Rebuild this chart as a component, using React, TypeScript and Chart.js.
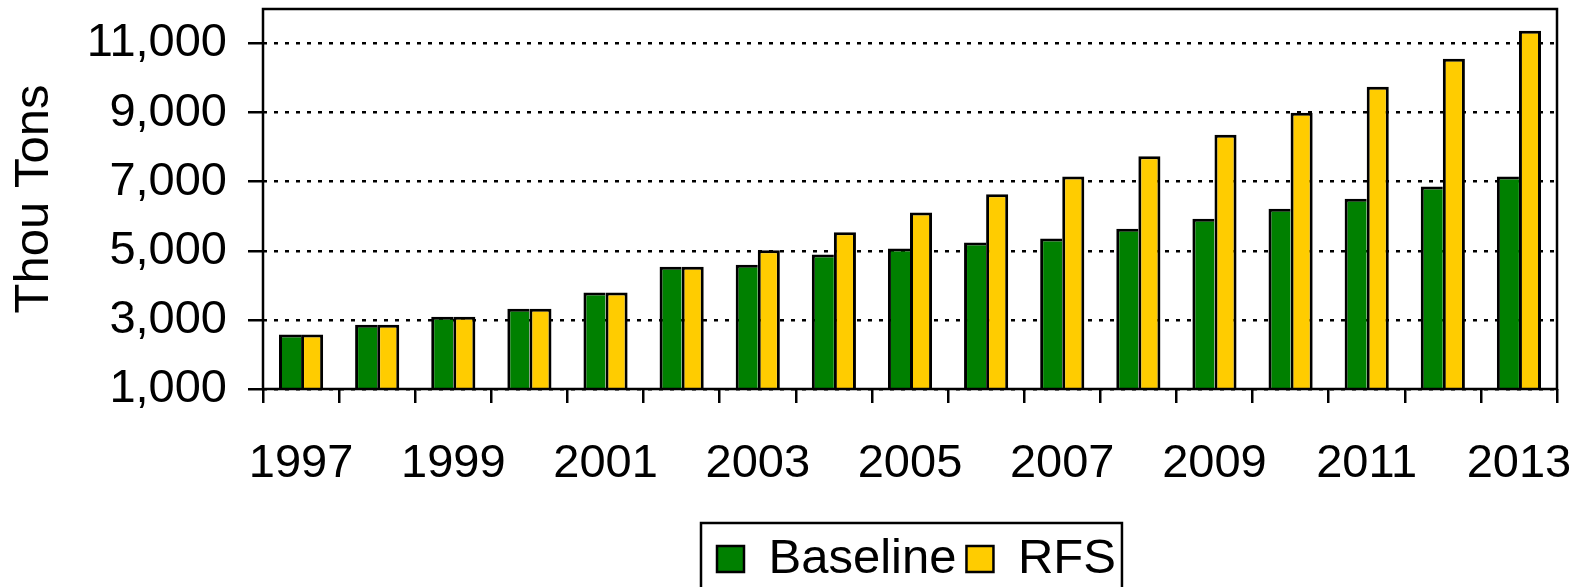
import React, { useEffect, useRef } from "react";
import { Chart, registerables } from "chart.js";

Chart.register(...registerables);

const years = ["1997","1998","1999","2000","2001","2002","2003","2004","2005","2006","2007","2008","2009","2010","2011","2012","2013"];
const baseline = [2580, 2860, 3090, 3320, 3790, 4540, 4600, 4890, 5070, 5240, 5360, 5640, 5930, 6220, 6510, 6860, 7150];
const rfs = [2580, 2860, 3090, 3320, 3790, 4540, 5015, 5540, 6110, 6640, 7150, 7740, 8360, 9000, 9750, 10560, 11370];
const yTicks = [1000, 3000, 5000, 7000, 9000, 11000];
const yMin = 1000;
const yMax = 12000;

const FONT = "'Liberation Sans', Arial, sans-serif";

export default function App() {
  const ref = useRef<HTMLCanvasElement | null>(null);

  useEffect(() => {
    if (!ref.current) return;
    const frame = {
      id: "frame",
      afterDatasetsDraw(chart: any) {
        const { ctx, chartArea: a } = chart;
        ctx.save();
        ctx.strokeStyle = "#000";
        ctx.lineWidth = 2.5;
        ctx.strokeRect(a.left, a.top, a.right - a.left, a.bottom - a.top);
        ctx.restore();
      },
      afterLayout(chart: any) {
        const lg = chart.legend;
        if (!lg) return;
        const w = lg.width;
        lg.left = 707;
        lg.right = lg.left + w + 60;
        lg.top = 524.5;
        lg.bottom = lg.top + lg.height;
      },
      afterDraw(chart: any) {
        const lg = chart.legend;
        if (!lg || !lg.legendHitBoxes || !lg.legendHitBoxes.length) return;
        const hb = lg.legendHitBoxes;
        const first = hb[0];
        const last = hb[hb.length - 1];
        const ctx = chart.ctx;
        ctx.save();
        ctx.strokeStyle = "#000";
        ctx.lineWidth = 2.5;
        const x0 = first.left - 16;
        const x1 = last.left + last.width + 6;
        const y0 = first.top - 11.5;
        ctx.strokeRect(x0, y0, x1 - x0, chart.height + 10 - y0);
        ctx.restore();
      },
    };

    const chart = new Chart(ref.current, {
      type: "bar",
      data: {
        labels: years,
        datasets: [
          {
            label: "Baseline",
            data: baseline,
            backgroundColor: "#008000",
            borderColor: "#000",
            borderWidth: { top: 3, left: 3, right: 0, bottom: 0 },
            inflateAmount: 0,
            categoryPercentage: 0.58,
            barPercentage: 1.0,
          },
          {
            label: "RFS",
            data: rfs,
            backgroundColor: "#FFCC00",
            borderColor: "#000",
            borderWidth: { top: 3, left: 3, right: 3, bottom: 0 },
            inflateAmount: 0,
            categoryPercentage: 0.58,
            barPercentage: 1.0,
          },
        ],
      },
      options: {
        animation: false,
        responsive: true,
        maintainAspectRatio: false,
        layout: { padding: { top: 9, right: 24, left: 0, bottom: 0 } },
        plugins: {
          tooltip: { enabled: false },
          legend: {
            display: true,
            position: "bottom",
            align: "start",
            labels: {
              color: "#000",
              font: { family: FONT, size: 49 },
              boxWidth: 27,
              boxHeight: 26,
              padding: 10,
              generateLabels: (c: any) =>
                Chart.defaults.plugins.legend.labels
                  .generateLabels(c)
                  .map((l: any) => ({ ...l, lineWidth: 2.5, strokeStyle: "#000" })),
            },
          },
        },
        scales: {
          x: {
            offset: true,
            grid: {
              offset: true,
              drawOnChartArea: false,
              drawTicks: true,
              tickLength: 14,
              tickColor: "#000",
              tickWidth: 2.5,
              color: "#000",
              lineWidth: 2.5,
            },
            border: { display: false },
            ticks: {
              autoSkip: false,
              maxRotation: 0,
              minRotation: 0,
              color: "#000",
              padding: 33,
              font: { family: FONT, size: 47 },
              callback: (_v: any, i: number) => (i % 2 === 0 ? years[i] : ""),
            },
            afterFit: (scale: any) => {
              const lh = scale.chart.legend ? scale.chart.legend.height : 0;
              scale.height = scale.chart.height - 389 - lh;
              scale.paddingLeft = 0;
              scale.paddingRight = 0;
            },
          },
          y: {
            min: yMin,
            max: yMax,
            afterBuildTicks: (scale: any) => {
              scale.ticks = yTicks.map((v) => ({ value: v }));
            },
            grid: {
              color: "#000",
              lineWidth: 2.5,
              drawTicks: true,
              tickLength: 15,
              tickColor: "#000",
              tickWidth: 2.5,
              tickBorderDash: [],
            },
            border: { display: false, dash: [4, 7] },
            ticks: {
              color: "#000",
              padding: 21,
              font: { family: FONT, size: 47 },
              callback: (v: any) => Number(v).toLocaleString("en-US"),
            },
            title: {
              display: true,
              text: "Thou Tons",
              color: "#000",
              font: { family: FONT, size: 49 },
              padding: { top: 5, bottom: 0 },
            },
            afterFit: (scale: any) => {
              scale.width = 263;
              scale.paddingTop = 0;
              scale.paddingBottom = 0;
            },
          },
        },
      },
      plugins: [frame],
    });
    return () => chart.destroy();
  }, []);

  return (
    <div style={{ position: "fixed", left: 0, top: 0, width: 1581, height: 587, background: "#fff" }}>
      <canvas ref={ref} />
    </div>
  );
}
